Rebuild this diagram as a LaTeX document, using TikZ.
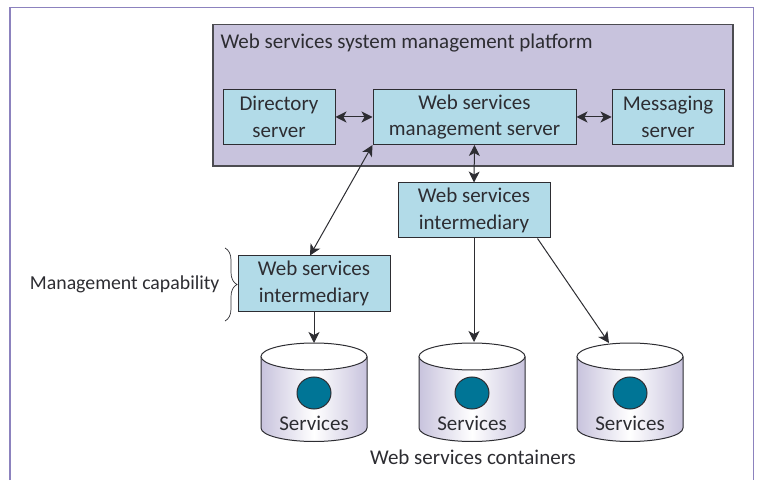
\documentclass[tikz,border=0pt]{standalone}
\usepackage{fontspec}
\setmainfont{Carlito}
\usetikzlibrary{arrows.meta,decorations.pathreplacing}
\definecolor{framecol}{RGB}{140,130,190}
\definecolor{platcol}{RGB}{200,195,221}
\definecolor{boxcol}{RGB}{178,219,232}
\definecolor{dotcol}{RGB}{0,117,150}
\definecolor{inkcol}{RGB}{45,45,50}
\tikzset{>={Stealth[length=11pt,width=11pt,inset=3pt]}}
\tikzset{every node/.style={text=inkcol,font=\fontsize{21}{26.5}\selectfont}}
\tikzset{box/.style={draw=inkcol,line width=1pt,fill=boxcol,align=center,inner sep=0pt}}
\tikzset{link/.style={draw=inkcol,line width=1pt}}
\tikzset{cyl/.style={draw=inkcol,line width=1pt}}

\begin{document}
\begin{tikzpicture}[x=1pt,y=1pt]
\useasboundingbox (0,0) rectangle (758,480);
\draw[framecol,line width=1.4pt] (10,0) -- (10,472.5) -- (753.5,472.5) -- (753.5,0);
\draw[inkcol!85,line width=1.1pt,fill=platcol] (213,314) rectangle (733,455.5);
\node[anchor=west] (plat) at (217,436.5) {Web services system management platform};
\node[box,minimum width=112pt,minimum height=55pt] (dir) at (279,363) {Directory\\server};
\node[box,minimum width=203pt,minimum height=55pt] (mgmt) at (474.5,363) {Web services\\management server};
\node[box,minimum width=112pt,minimum height=55pt] (msg) at (668,363) {Messaging\\server};
\node[box,minimum width=152pt,minimum height=55pt] (int1) at (474,269.5) {Web services\\intermediary};
\node[box,minimum width=152pt,minimum height=55pt] (int2) at (314,196.5) {Web services\\intermediary};
\node[anchor=east,font=\fontsize{19.8}{26}\selectfont] (cap) at (223,195.5) {Management capability};
\coordinate (bt) at (225,232);
\coordinate (bb) at (225,159);
\draw[inkcol,line width=0.7pt,decorate,decoration={brace,amplitude=12pt}] (bt) -- (bb);
% containers
\begin{scope}
\shade[left color=platcol,right color=platcol,middle color=white] (261,123.5) -- (261,52) arc (180:360:53 and 13.5) -- (367,123.5) -- cycle;
\draw[cyl] (261,123.5) -- (261,52) arc (180:360:53 and 13.5) -- (367,123.5);
\draw[cyl,fill=white] (314,123.5) ellipse (53 and 13.5);
\draw[cyl,fill=dotcol] (314,87) ellipse (17 and 16);
\node (svc1) at (314,57) {Services};
\coordinate (top1) at (314,137);
\end{scope}
\begin{scope}[xshift=158pt]
\shade[left color=platcol,right color=platcol,middle color=white] (261,123.5) -- (261,52) arc (180:360:53 and 13.5) -- (367,123.5) -- cycle;
\draw[cyl] (261,123.5) -- (261,52) arc (180:360:53 and 13.5) -- (367,123.5);
\draw[cyl,fill=white] (314,123.5) ellipse (53 and 13.5);
\draw[cyl,fill=dotcol] (314,87) ellipse (17 and 16);
\node (svc2) at (314,57) {Services};
\coordinate (top2) at (316,138);
\end{scope}
\begin{scope}[xshift=316pt]
\shade[left color=platcol,right color=platcol,middle color=white] (261,123.5) -- (261,52) arc (180:360:53 and 13.5) -- (367,123.5) -- cycle;
\draw[cyl] (261,123.5) -- (261,52) arc (180:360:53 and 13.5) -- (367,123.5);
\draw[cyl,fill=white] (314,123.5) ellipse (53 and 13.5);
\draw[cyl,fill=dotcol] (314,87) ellipse (17 and 16);
\node (svc3) at (314,57) {Services};
\coordinate (top3) at (293,137);
\end{scope}
\node (cont) at (473,23) {Web services containers};
\draw[link,<->] (dir) -- (mgmt);
\draw[link,<->] (mgmt) -- (msg);
\draw[link,<->] (mgmt.south) -- (int1.north);
\draw[link,<->] (mgmt.south west) -- ([xshift=-4pt]int2.north);
\draw[link,->] (int2.south) -- (top1);
\draw[link,->] (int1.south) -- (top2);
\draw[link,->] ([xshift=-13pt]int1.south east) -- (top3);
\end{tikzpicture}
\end{document}
